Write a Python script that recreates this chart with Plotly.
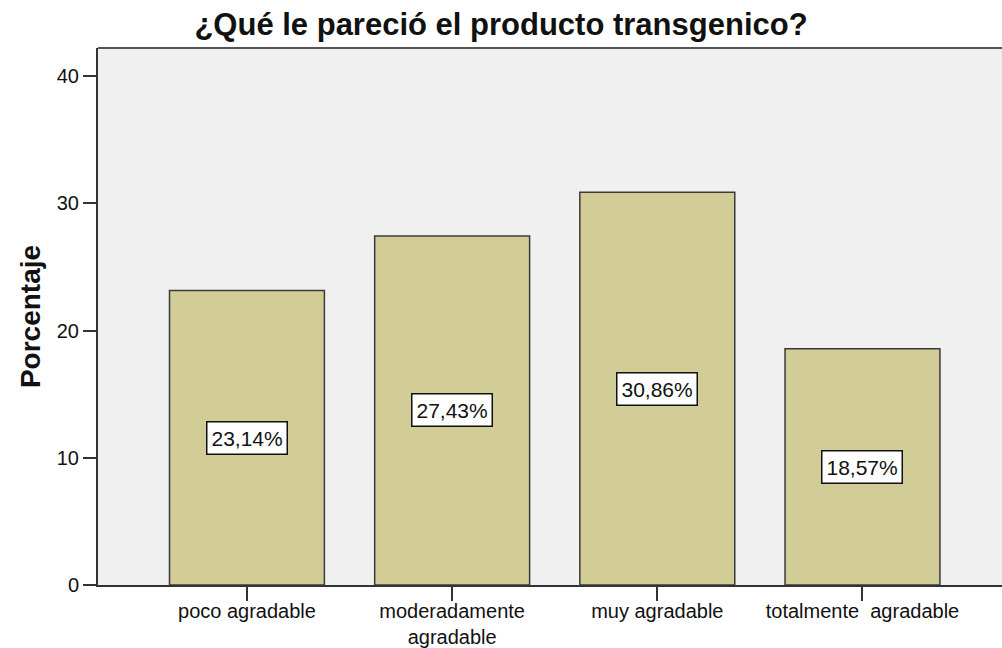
import plotly.graph_objects as go

categories = ["poco agradable", "moderadamente<br>agradable", "muy agradable", "totalmente  agradable"]
values = [23.14, 27.43, 30.86, 18.57]
labels = ["23,14%", "27,43%", "30,86%", "18,57%"]
y_ticks = [0, 10, 20, 30, 40]

x_idx = list(range(len(categories)))
FONT = "Liberation Sans, Arial"

fig = go.Figure()
fig.add_trace(go.Bar(
    x=x_idx, y=values, width=0.755,
    marker=dict(color="#D2CD96", line=dict(color="#3A3A3A", width=1.5)),
    hoverinfo="skip",
))

for i, (v, lab) in enumerate(zip(values, labels)):
    fig.add_annotation(
        x=i, y=v / 2, text=lab, showarrow=False,
        font=dict(family=FONT, size=21, color="#111111"),
        bgcolor="white", bordercolor="#111111", borderwidth=1.5, borderpad=4,
    )

fig.add_shape(type="line", xref="paper", yref="paper", x0=0, x1=1, y0=1, y1=1,
              line=dict(color="#555555", width=2))

fig.update_layout(
    width=1002, height=648,
    margin=dict(l=98, r=0, t=48, b=63),
    paper_bgcolor="white", plot_bgcolor="#F0F0F0",
    showlegend=False,
    font=dict(family=FONT, color="#111111"),
    title=dict(text="<b>¿Qué le pareció el producto transgenico?</b>",
               x=0.5, xanchor="center", y=0.963, yanchor="middle",
               font=dict(size=31, color="#111111")),
)
fig.update_xaxes(
    range=[-0.726, 3.68], tickmode="array", tickvals=x_idx, ticktext=categories,
    showgrid=False, zeroline=False, showline=True, linecolor="#333333", linewidth=2,
    ticks="outside", ticklen=14, tickwidth=2, tickcolor="#333333",
    tickfont=dict(size=20, color="#111111"), automargin=False,
    ticklabelstandoff=-7,
)
fig.update_yaxes(
    range=[0, 42.2], tickmode="array", tickvals=y_ticks,
    showgrid=False, zeroline=False, showline=True, linecolor="#333333", linewidth=2,
    ticks="outside", ticklen=13, tickwidth=2, tickcolor="#333333",
    tickfont=dict(size=20, color="#111111"), automargin=False,
    title=dict(text="<b>Porcentaje</b>", font=dict(size=28, color="#111111"), standoff=8),
)

fig.write_html("out.html", config={"displayModeBar": False},
               post_script="document.body.style.margin='0';document.body.style.overflow='hidden';")
